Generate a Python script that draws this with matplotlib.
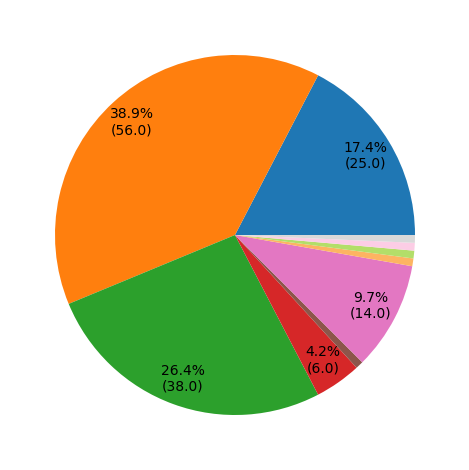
import numpy as np
import matplotlib
matplotlib.use("Agg")
import matplotlib.pyplot as plt

values = [25.0, 56.0, 38.0, 6.0, 1.0, 14.0, 1.0, 1.0, 1.0, 1.0]
colors = ["#1f77b4", "#ff7f0e", "#2ca02c", "#d62728", "#8c564b",
          "#e377c2", "#fdb462", "#b3de69", "#fccde5", "#d9d9d9"]
total = sum(values)


def fmt(p):
    # hide labels of the thin slices
    if p < 3:
        return ""
    return "{0:.1f}%\n({1:.1f})".format(p, p * total / 100.0)


fig = plt.figure(figsize=(4.69, 4.70), dpi=100)
ax = fig.add_axes([0, 0, 1, 1])
ax.pie(values, colors=colors, autopct=fmt, pctdistance=0.85, startangle=0)
ax.set_xlim(-235.0 / 180, 234.0 / 180)
ax.set_ylim(-235.0 / 180, 235.0 / 180)
ax.set_aspect("equal")
fig.savefig("out.png", dpi=100)
